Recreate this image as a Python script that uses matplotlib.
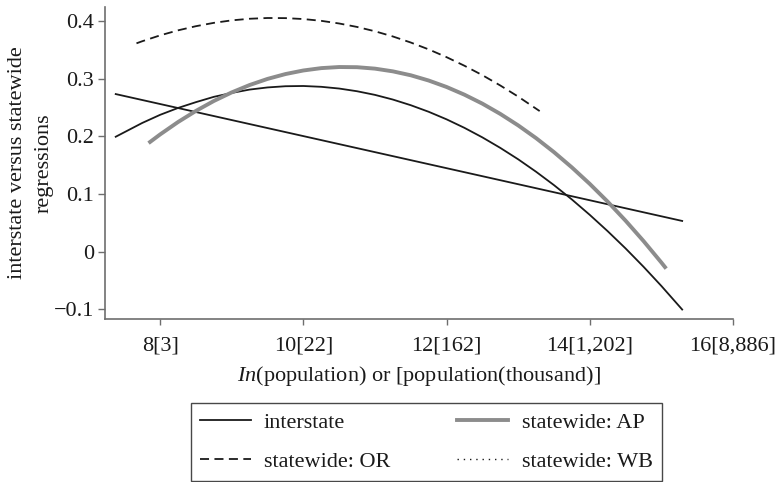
import matplotlib
matplotlib.use("Agg")
import matplotlib.pyplot as plt

plt.rcParams['font.family'] = ['Liberation Serif', 'DejaVu Serif']
plt.rcParams['mathtext.fontset'] = 'custom'
plt.rcParams['mathtext.it'] = 'Liberation Serif:italic'
plt.rcParams['mathtext.rm'] = 'Liberation Serif'

# interstate, linear fit
lin_x = [7.38, 15.29]
lin_y = [0.273, 0.053]

# interstate, quadratic fit
inter_x = [7.38, 7.75, 8.0, 8.25, 8.5, 8.75, 9.0, 9.25, 9.5, 9.75, 10.0, 10.25, 10.5, 10.75, 11.0, 11.25,
           11.5, 11.75, 12.0, 12.25, 12.5, 12.75, 13.0, 13.25, 13.5, 13.75, 14.0, 14.25, 14.5, 14.75, 15.0, 15.29]
inter_y = [0.199, 0.2229, 0.237, 0.2489, 0.259, 0.2682, 0.275, 0.2808, 0.2845, 0.2866, 0.287, 0.2856, 0.2826,
           0.2779, 0.2716, 0.2635, 0.2537, 0.2423, 0.2292, 0.2144, 0.1979, 0.1797, 0.1599, 0.1383, 0.1151,
           0.0902, 0.0635, 0.0352, 0.0053, -0.0264, -0.0598, -0.1006]

# statewide: AP
ap_x = [7.86, 8.0, 8.25, 8.5, 8.75, 9.0, 9.25, 9.5, 9.75, 10.0, 10.25, 10.5, 10.75, 11.0, 11.25, 11.5,
        11.75, 12.0, 12.25, 12.5, 12.75, 13.0, 13.25, 13.5, 13.75, 14.0, 14.25, 14.5, 14.75, 15.0, 15.05]
ap_y = [0.190, 0.203, 0.2245, 0.2438, 0.261, 0.2759, 0.2887, 0.2993, 0.3077, 0.3139, 0.318, 0.3199, 0.3196,
        0.3171, 0.3124, 0.3056, 0.2965, 0.2853, 0.2719, 0.2564, 0.2386, 0.2187, 0.1966, 0.1723, 0.1458,
        0.1172, 0.0864, 0.0534, 0.0182, -0.0192, -0.027]

# statewide: OR
or_x = [7.67, 7.75, 8.0, 8.25, 8.5, 8.75, 9.0, 9.25, 9.5, 9.75, 10.0, 10.25, 10.5, 10.75, 11.0, 11.25,
        11.5, 11.75, 12.0, 12.25, 12.5, 12.75, 13.0, 13.3]
or_y = [0.361, 0.3646, 0.3748, 0.3835, 0.3907, 0.3965, 0.4008, 0.4036, 0.4049, 0.4047, 0.4031, 0.400, 0.3954,
        0.3894, 0.3819, 0.3729, 0.3624, 0.3505, 0.337, 0.3221, 0.3058, 0.2879, 0.2686, 0.2435]

xticks = [8, 10, 12, 14, 16]
xticklabels = ["8[3]", "10[22]", "12[162]", "14[1,202]", "16[8,886]"]
yticks = [-0.1, 0, 0.1, 0.2, 0.3, 0.4]
yticklabels = ["\u22120.1", "0", "0.1", "0.2", "0.3", "0.4"]

fig = plt.figure(figsize=(7.77, 4.82), dpi=100)
ax = fig.add_axes([0.1351, 0.3382, 0.8083, 0.6473])

fs = 16
ink = '#1a1a1a'
ax.plot(lin_x, lin_y, color=ink, lw=1.3)
h1, = ax.plot(inter_x, inter_y, color=ink, lw=1.3, solid_joinstyle='round', label='interstate')
h2, = ax.plot(ap_x, ap_y, color='#8c8c8c', lw=2.8, solid_joinstyle='round', label='statewide: AP')
h3, = ax.plot(or_x, or_y, color=ink, lw=1.3, dashes=(5, 3), label='statewide: OR')
h4, = ax.plot([], [], color=ink, lw=1.0, dashes=(1, 3.5), label='statewide: WB')

ax.set_xlim(7.23, 16.0)
ax.set_ylim(-0.117, 0.424)
ax.set_xticks(xticks)
ax.set_xticklabels(xticklabels, fontsize=fs)
ax.set_yticks(yticks)
ax.set_yticklabels(yticklabels, fontsize=fs)

for s in ['top', 'right']:
    ax.spines[s].set_visible(False)
for s in ['left', 'bottom']:
    ax.spines[s].set_color('#6e6e6e')
    ax.spines[s].set_linewidth(1.2)
ax.tick_params(axis='x', direction='out', length=4.5, width=1.0, color='#6e6e6e', labelcolor=ink, pad=8)
ax.tick_params(axis='y', direction='out', length=5, width=1.0, color='#6e6e6e', labelcolor=ink, pad=3)

ax.set_xlabel(r"$\mathit{In}$(population) or [population(thousand)]", fontsize=fs, color=ink, labelpad=6)
ax.set_ylabel("interstate versus statewide\nregressions", fontsize=fs, color=ink, linespacing=1.5, labelpad=0)

leg = fig.legend(handles=[h1, h3, h2, h4], ncol=2, loc='lower left',
                 bbox_to_anchor=(0.2454, 0.002, 0.606, 0.164), mode='expand',
                 fontsize=fs, frameon=True, fancybox=False, edgecolor=ink,
                 handlelength=2.3, handletextpad=0.6, borderaxespad=0,
                 borderpad=0.4, labelspacing=0.85)
leg.get_frame().set_linewidth(1.0)
for t in leg.get_texts():
    t.set_color(ink)

fig.savefig("out.png", dpi=100)
